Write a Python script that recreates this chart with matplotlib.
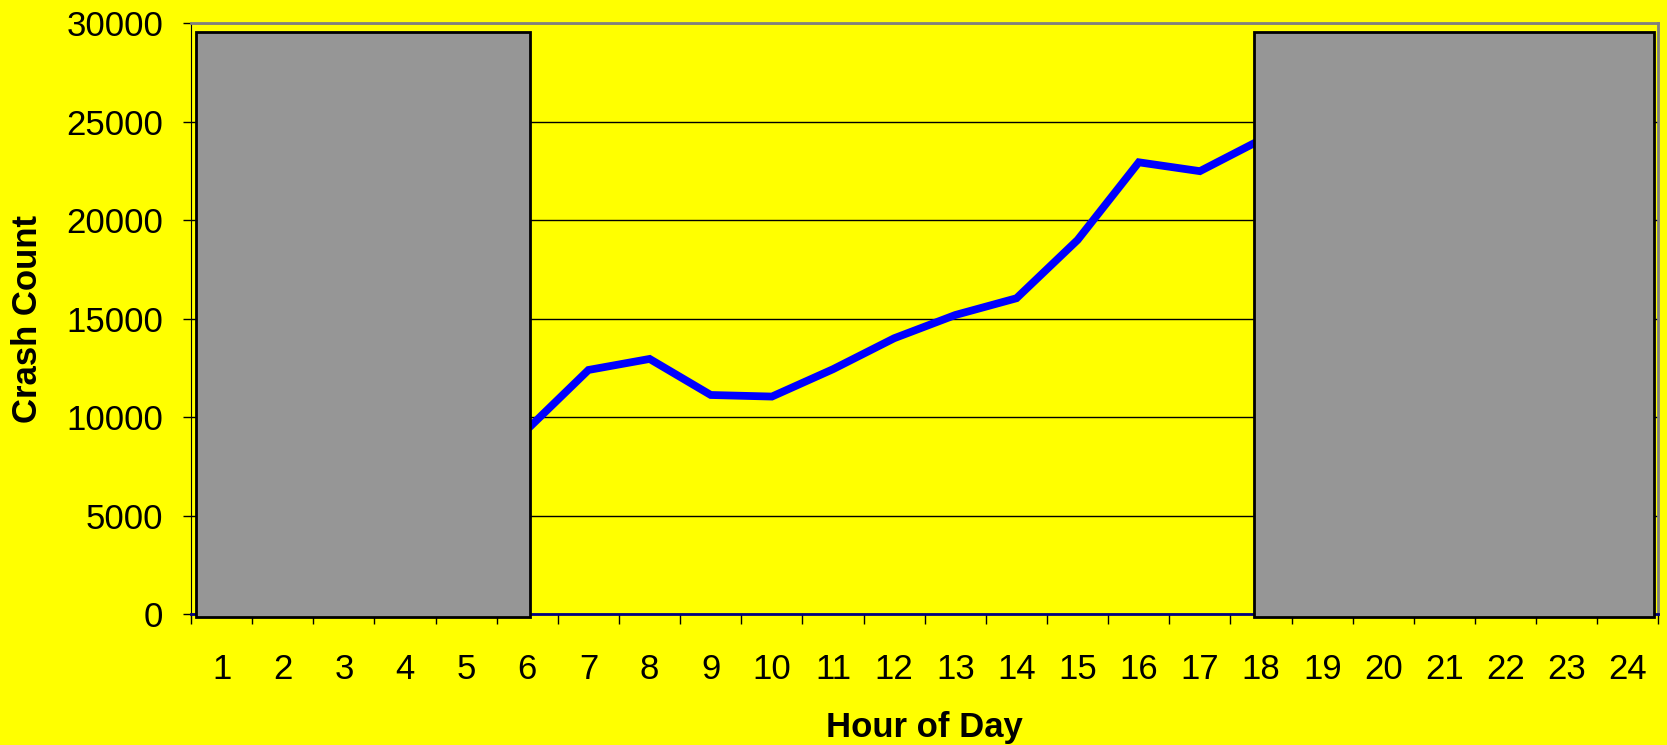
import numpy as np
import matplotlib
matplotlib.use('Agg')
import matplotlib.pyplot as plt
from matplotlib.patches import Rectangle

plt.rcParams['font.family'] = ['Liberation Sans', 'DejaVu Sans']

# hours 1..24 on the category axis
hour_labels = [str(h) for h in range(1, 25)]
# visible part of the crash-count line (hours 6..18)
line_hours = [6, 7, 8, 9, 10, 11, 12, 13, 14, 15, 16, 17, 18]
crash_counts = [9400, 12410, 12970, 11140, 11060, 12450, 14020, 15200, 16050,
                19010, 22950, 22500, 24100]
# grey masking boxes (hour spans)
night_spans = [(0.58, 6.04), (17.89, 24.42)]
box_top = 29550
box_bottom = -150

YELLOW = '#FFFF00'
GREY = '#969696'

fig = plt.figure(figsize=(16.67, 7.45), dpi=100)
fig.patch.set_facecolor(YELLOW)
ax = fig.add_axes([0.1146, 0.1752, 0.8803, 0.7934])
ax.set_facecolor(YELLOW)

ax.plot(line_hours, crash_counts, color='#0000FF', linewidth=5.6,
        solid_joinstyle='miter', zorder=3)

for x0, x1 in night_spans:
    ax.add_patch(Rectangle((x0, box_bottom), x1 - x0, box_top - box_bottom,
                           facecolor=GREY, edgecolor='black', linewidth=2,
                           zorder=5, clip_on=False))

ax.set_xlim(0.5, 24.5)
ax.set_ylim(0, 30000)
ax.set_yticks(np.arange(0, 30001, 5000))
ax.set_xticks(range(1, 25))
ax.set_xticklabels(hour_labels)
ax.set_xticks(np.arange(0.5, 24.6, 1), minor=True)
ax.grid(axis='y', color='black', linewidth=1, zorder=1)
ax.set_axisbelow(True)

ax.tick_params(axis='x', which='major', length=0, pad=28, labelsize=25)
ax.tick_params(axis='x', which='minor', length=7, width=1, direction='out')
ax.tick_params(axis='y', length=6, width=1, direction='out', pad=14, labelsize=25)

for s in ['top', 'right']:
    ax.spines[s].set_color('#808080')
    ax.spines[s].set_linewidth(2)
ax.spines['left'].set_color('black')
ax.spines['bottom'].set_color('#000080')
ax.spines['bottom'].set_linewidth(2)

ax.set_ylabel('Crash Count', fontsize=25, fontweight='bold', labelpad=16)
ax.set_xlabel('Hour of Day', fontsize=25, fontweight='bold', labelpad=18)

fig.savefig('out.png', dpi=100, facecolor=YELLOW)
